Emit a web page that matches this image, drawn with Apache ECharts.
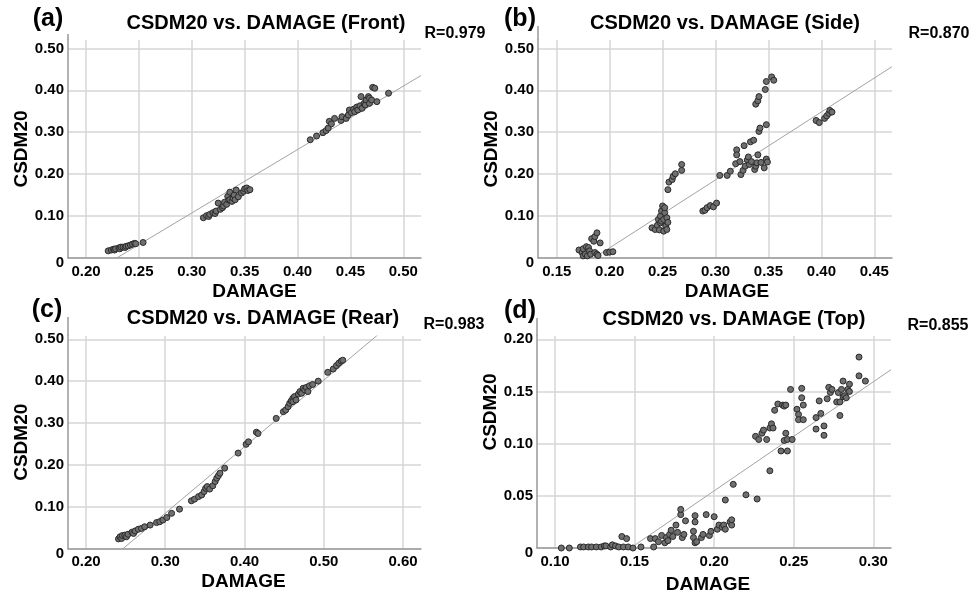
<!DOCTYPE html>
<html>
<head>
<meta charset="utf-8">
<script src="https://cdn.jsdelivr.net/npm/echarts@6.0.0/dist/echarts.min.js"></script>
<style>
  html, body { margin: 0; padding: 0; background: #fff; }
  #chart { width: 970px; height: 595px; }
</style>
</head>
<body>
<div id="chart"></div>
<script>
const FONT = '"Liberation Sans", Arial, Helvetica, sans-serif'

const panelLetters = ['(a)', '(b)', '(c)', '(d)']
const panelTitles = [
  'CSDM20 vs. DAMAGE (Front)',
  'CSDM20 vs. DAMAGE (Side)',
  'CSDM20 vs. DAMAGE (Rear)',
  'CSDM20 vs. DAMAGE (Top)'
]
const rValues = ['R=0.979', 'R=0.870', 'R=0.983', 'R=0.855']

const xTicksFront = [0.20, 0.25, 0.30, 0.35, 0.40, 0.45, 0.50]
const xTicksSide = [0.15, 0.20, 0.25, 0.30, 0.35, 0.40, 0.45]
const xTicksRear = [0.20, 0.30, 0.40, 0.50, 0.60]
const xTicksTop = [0.10, 0.15, 0.20, 0.25, 0.30]
const yTicksWide = [0, 0.10, 0.20, 0.30, 0.40, 0.50]
const yTicksTop = [0, 0.05, 0.10, 0.15, 0.20]

// fit line y = slope * x + intercept
const fitSlope = [1.513, 1.62, 1.59, 1.045]
const fitIntercept = [-0.3465, -0.2997, -0.3927, -0.1542]

const frontPoints = [
  [0.221, 0.017], [0.224, 0.019], [0.226, 0.021], [0.227, 0.019], [0.228, 0.022],
  [0.231, 0.024], [0.232, 0.022], [0.233, 0.026], [0.235, 0.026], [0.237, 0.025],
  [0.238, 0.028], [0.240, 0.029], [0.242, 0.031], [0.244, 0.033], [0.246, 0.035],
  [0.247, 0.034], [0.254, 0.037],
  [0.311, 0.096], [0.314, 0.101], [0.316, 0.099], [0.317, 0.104], [0.320, 0.108],
  [0.322, 0.106], [0.323, 0.112], [0.325, 0.131], [0.327, 0.116], [0.329, 0.120],
  [0.330, 0.124], [0.331, 0.133], [0.333, 0.128], [0.334, 0.147], [0.335, 0.138],
  [0.336, 0.157], [0.336, 0.139], [0.338, 0.135], [0.339, 0.143], [0.340, 0.150],
  [0.341, 0.139], [0.342, 0.162], [0.344, 0.146], [0.347, 0.155], [0.349, 0.159],
  [0.350, 0.165], [0.352, 0.167], [0.353, 0.161], [0.355, 0.163],
  [0.412, 0.282], [0.418, 0.291], [0.424, 0.299], [0.427, 0.304], [0.429, 0.310],
  [0.430, 0.326], [0.432, 0.320], [0.435, 0.333], [0.441, 0.328], [0.442, 0.337],
  [0.446, 0.333], [0.448, 0.341], [0.449, 0.353], [0.451, 0.347], [0.453, 0.355],
  [0.454, 0.349], [0.456, 0.360], [0.457, 0.353], [0.459, 0.363], [0.460, 0.385],
  [0.461, 0.357], [0.463, 0.369], [0.464, 0.365], [0.465, 0.377], [0.467, 0.385],
  [0.468, 0.381], [0.468, 0.369], [0.470, 0.377], [0.471, 0.407], [0.473, 0.405],
  [0.475, 0.373], [0.486, 0.393]
]

const sidePoints = [
  [0.171, 0.019], [0.174, 0.013], [0.175, 0.022], [0.175, 0.005], [0.177, 0.009],
  [0.178, 0.027], [0.179, 0.005], [0.180, 0.025], [0.181, 0.017], [0.182, 0.009],
  [0.183, 0.046], [0.185, 0.040], [0.186, 0.051], [0.186, 0.013], [0.188, 0.060],
  [0.188, 0.009], [0.189, 0.006], [0.191, 0.036], [0.197, 0.013], [0.200, 0.014],
  [0.203, 0.015],
  [0.240, 0.072], [0.243, 0.068], [0.245, 0.078], [0.246, 0.092], [0.247, 0.067],
  [0.248, 0.084], [0.248, 0.100], [0.249, 0.112], [0.249, 0.088], [0.250, 0.124],
  [0.251, 0.064], [0.251, 0.092], [0.252, 0.108], [0.252, 0.120], [0.253, 0.076],
  [0.254, 0.096], [0.254, 0.068], [0.255, 0.085], [0.255, 0.163], [0.256, 0.181],
  [0.259, 0.187], [0.260, 0.195], [0.262, 0.201], [0.268, 0.223], [0.268, 0.209],
  [0.288, 0.112], [0.290, 0.114], [0.292, 0.120], [0.295, 0.125], [0.298, 0.122],
  [0.301, 0.131],
  [0.304, 0.197], [0.311, 0.197], [0.314, 0.207], [0.319, 0.225], [0.320, 0.258],
  [0.320, 0.246], [0.323, 0.230], [0.324, 0.199], [0.326, 0.209], [0.327, 0.268],
  [0.328, 0.219], [0.330, 0.234], [0.331, 0.241], [0.332, 0.223], [0.333, 0.277],
  [0.334, 0.230], [0.336, 0.281], [0.337, 0.211], [0.338, 0.219], [0.338, 0.367],
  [0.339, 0.227], [0.340, 0.246], [0.340, 0.375], [0.341, 0.302], [0.341, 0.385],
  [0.342, 0.310], [0.343, 0.228], [0.346, 0.215], [0.347, 0.402], [0.348, 0.318],
  [0.348, 0.236], [0.348, 0.421], [0.349, 0.229], [0.353, 0.432], [0.355, 0.424],
  [0.395, 0.328], [0.398, 0.323], [0.403, 0.333], [0.405, 0.339], [0.407, 0.345],
  [0.408, 0.352], [0.410, 0.348]
]

const rearPoints = [
  [0.241, 0.023], [0.243, 0.028], [0.245, 0.024], [0.246, 0.031], [0.249, 0.032],
  [0.251, 0.028], [0.253, 0.034], [0.258, 0.039], [0.260, 0.036], [0.262, 0.042],
  [0.266, 0.046], [0.270, 0.048], [0.274, 0.052], [0.281, 0.056], [0.289, 0.062],
  [0.293, 0.064], [0.297, 0.068], [0.302, 0.074], [0.308, 0.084], [0.318, 0.094],
  [0.333, 0.114], [0.337, 0.118], [0.342, 0.124], [0.346, 0.128], [0.349, 0.136],
  [0.351, 0.144], [0.353, 0.148], [0.356, 0.142], [0.360, 0.150], [0.363, 0.160],
  [0.365, 0.168], [0.367, 0.174], [0.369, 0.180], [0.375, 0.192], [0.392, 0.228],
  [0.402, 0.249], [0.405, 0.255], [0.415, 0.278], [0.417, 0.275],
  [0.440, 0.311], [0.449, 0.327], [0.452, 0.331], [0.455, 0.339], [0.457, 0.347],
  [0.459, 0.353], [0.461, 0.359], [0.461, 0.351], [0.463, 0.363], [0.465, 0.355],
  [0.468, 0.369], [0.470, 0.375], [0.472, 0.371], [0.474, 0.383], [0.476, 0.379],
  [0.478, 0.385], [0.480, 0.375], [0.482, 0.389], [0.486, 0.392], [0.493, 0.400],
  [0.505, 0.421], [0.512, 0.429], [0.516, 0.437], [0.519, 0.443], [0.522, 0.448],
  [0.524, 0.450]
]

const topPoints = [
  [0.104, 0.000], [0.109, 0.000], [0.116, 0.001], [0.118, 0.001], [0.121, 0.001],
  [0.123, 0.001], [0.126, 0.001], [0.129, 0.001], [0.131, 0.002], [0.132, 0.002],
  [0.135, 0.001], [0.136, 0.003], [0.138, 0.002], [0.140, 0.001], [0.142, 0.011],
  [0.143, 0.001], [0.145, 0.009], [0.146, 0.001], [0.149, 0.000], [0.154, 0.001],
  [0.160, 0.009], [0.162, 0.001], [0.163, 0.009], [0.165, 0.006], [0.167, 0.012],
  [0.169, 0.005], [0.170, 0.010], [0.171, 0.007], [0.172, 0.013], [0.173, 0.017],
  [0.174, 0.011], [0.176, 0.022], [0.177, 0.015], [0.179, 0.032], [0.179, 0.037],
  [0.180, 0.010], [0.181, 0.013], [0.182, 0.026], [0.187, 0.010], [0.187, 0.016],
  [0.188, 0.025], [0.188, 0.031], [0.188, 0.005], [0.189, 0.006], [0.192, 0.010],
  [0.193, 0.013], [0.195, 0.032], [0.197, 0.012], [0.198, 0.016], [0.200, 0.030],
  [0.202, 0.018], [0.203, 0.022], [0.205, 0.020], [0.206, 0.022], [0.207, 0.018],
  [0.207, 0.046], [0.210, 0.025], [0.211, 0.022], [0.211, 0.027], [0.212, 0.061],
  [0.220, 0.051], [0.227, 0.047], [0.226, 0.107], [0.228, 0.104], [0.230, 0.110],
  [0.231, 0.113], [0.233, 0.104], [0.235, 0.115], [0.235, 0.074], [0.236, 0.119],
  [0.237, 0.115], [0.238, 0.132], [0.240, 0.138], [0.242, 0.093], [0.243, 0.137],
  [0.244, 0.136], [0.244, 0.103], [0.245, 0.110], [0.245, 0.137], [0.246, 0.093],
  [0.246, 0.104], [0.248, 0.152], [0.249, 0.104], [0.252, 0.133], [0.253, 0.128],
  [0.253, 0.123], [0.255, 0.153], [0.255, 0.144], [0.256, 0.137], [0.256, 0.123],
  [0.264, 0.114], [0.264, 0.125], [0.266, 0.141], [0.267, 0.129], [0.269, 0.117],
  [0.269, 0.108], [0.271, 0.143], [0.272, 0.154], [0.273, 0.149], [0.274, 0.152],
  [0.277, 0.140], [0.278, 0.149], [0.279, 0.127], [0.279, 0.140], [0.280, 0.152],
  [0.281, 0.145], [0.281, 0.160], [0.282, 0.146], [0.283, 0.144], [0.284, 0.152],
  [0.285, 0.157], [0.285, 0.150], [0.291, 0.165], [0.291, 0.183], [0.295, 0.160]
]

const pointSets = [frontPoints, sidePoints, rearPoints, topPoints]
const xTickSets = [xTicksFront, xTicksSide, xTicksRear, xTicksTop]
const yTickSets = [yTicksWide, yTicksWide, yTicksWide, yTicksTop]

// layout of the four panels (pixels) and axis extents
const panels = [
  { left: 68, top: 40, width: 353, height: 218, xMin: 0.183, xMax: 0.5167, yMax: 0.52,
    xNameShift: 10, yNameShift: 0, xNameGap: 24, axisTop: 34,
    letter: [48, 19], title: [266, 23], r: [455, 34] },
  { left: 538, top: 40, width: 354, height: 218, xMin: 0.1323, xMax: 0.4667, yMax: 0.52,
    xNameShift: 12, yNameShift: 0, xNameGap: 24, axisTop: 26,
    letter: [520, 19], title: [725, 23], r: [939, 34] },
  { left: 68, top: 336, width: 353, height: 212.5, xMin: 0.1773, xMax: 0.6227, yMax: 0.5079,
    xNameShift: -1, yNameShift: 0, xNameGap: 24, axisTop: 317,
    letter: [47, 310], title: [263, 318], r: [454, 325] },
  { left: 537, top: 336, width: 354, height: 212, xMin: 0.0887, xMax: 0.3111, yMax: 0.2032,
    xNameShift: -6, yNameShift: 30, xNameGap: 27, axisTop: 318,
    letter: [520, 311], title: [734, 319], r: [938, 326] }
]

const labelStyle = { fontFamily: FONT, fontWeight: 'bold', fontSize: 15, color: '#000' }
const nameStyle = { fontFamily: FONT, fontWeight: 'bold', fontSize: 19, color: '#000' }

const fmt = v => (v === 0 ? '{z|0}' : v.toFixed(2))

let grids = []
let xAxes = []
let yAxes = []
let series = []
let graphics = []

panels.forEach((p, i) => {
  grids.push({ left: p.left, top: p.top, width: p.width, height: p.height, containLabel: false })

  xAxes.push({
    type: 'value',
    gridIndex: i,
    min: p.xMin,
    max: p.xMax,
    name: 'DAMAGE',
    nameLocation: 'middle',
    nameGap: p.xNameGap,
    nameTextStyle: Object.assign({}, nameStyle, {
      padding: p.xNameShift >= 0 ? [0, 0, 0, 2 * p.xNameShift] : [0, -2 * p.xNameShift, 0, 0]
    }),
    axisLine: { show: true, onZero: false, lineStyle: { color: '#999', width: 1.5 } },
    axisTick: { show: false, customValues: xTickSets[i] },
    axisLabel: Object.assign({}, labelStyle, {
      customValues: xTickSets[i],
      margin: 6,
      formatter: v => v.toFixed(2)
    }),
    splitLine: { show: true, lineStyle: { color: '#d6d6d6', width: 1.5 } }
  })

  yAxes.push({
    type: 'value',
    gridIndex: i,
    min: 0,
    max: p.yMax,
    name: 'CSDM20',
    nameLocation: 'middle',
    nameGap: 35,
    nameTextStyle: Object.assign({}, nameStyle, {
      padding: [0, 0, 0, 2 * p.yNameShift]
    }),
    axisLine: { show: true, onZero: false, lineStyle: { color: '#999', width: 1.5 } },
    axisTick: { show: false, customValues: yTickSets[i] },
    axisLabel: Object.assign({}, labelStyle, {
      customValues: yTickSets[i],
      margin: 4,
      formatter: fmt,
      rich: { z: Object.assign({}, labelStyle, { padding: [10, 0, 0, 0] }) }
    }),
    splitLine: { show: true, lineStyle: { color: '#d6d6d6', width: 1.5 } }
  })

  series.push({
    type: 'line',
    xAxisIndex: i,
    yAxisIndex: i,
    data: [
      [p.xMin, fitSlope[i] * p.xMin + fitIntercept[i]],
      [p.xMax, fitSlope[i] * p.xMax + fitIntercept[i]]
    ],
    showSymbol: false,
    clip: true,
    silent: true,
    z: 2,
    lineStyle: { color: '#a3a3a3', width: 1 }
  })

  series.push({
    type: 'scatter',
    xAxisIndex: i,
    yAxisIndex: i,
    data: pointSets[i],
    symbol: 'circle',
    symbolSize: 6,
    z: 3,
    itemStyle: { color: '#6f6f6f', borderColor: '#2a2a2a', borderWidth: 1, opacity: 1 }
  })

  graphics.push({
    type: 'line',
    shape: { x1: p.left, y1: p.axisTop, x2: p.left, y2: p.top },
    style: { stroke: '#999', lineWidth: 1.5 },
    silent: true
  })
  graphics.push({
    type: 'text', x: p.letter[0], y: p.letter[1],
    style: { text: panelLetters[i], font: 'bold 25px ' + FONT, fill: '#000',
      textAlign: 'center', textVerticalAlign: 'middle' }
  })
  graphics.push({
    type: 'text', x: p.title[0], y: p.title[1],
    style: { text: panelTitles[i], font: 'bold 20px ' + FONT, fill: '#000',
      textAlign: 'center', textVerticalAlign: 'middle' }
  })
  graphics.push({
    type: 'text', x: p.r[0], y: p.r[1],
    style: { text: rValues[i], font: 'bold 16px ' + FONT, fill: '#000',
      textAlign: 'center', textVerticalAlign: 'middle' }
  })
})

const myChart = echarts.init(document.getElementById('chart'), null, { renderer: 'canvas' })
myChart.setOption({
  animation: false,
  backgroundColor: '#fff',
  grid: grids,
  xAxis: xAxes,
  yAxis: yAxes,
  series: series,
  graphic: graphics
})
</script>
</body>
</html>
